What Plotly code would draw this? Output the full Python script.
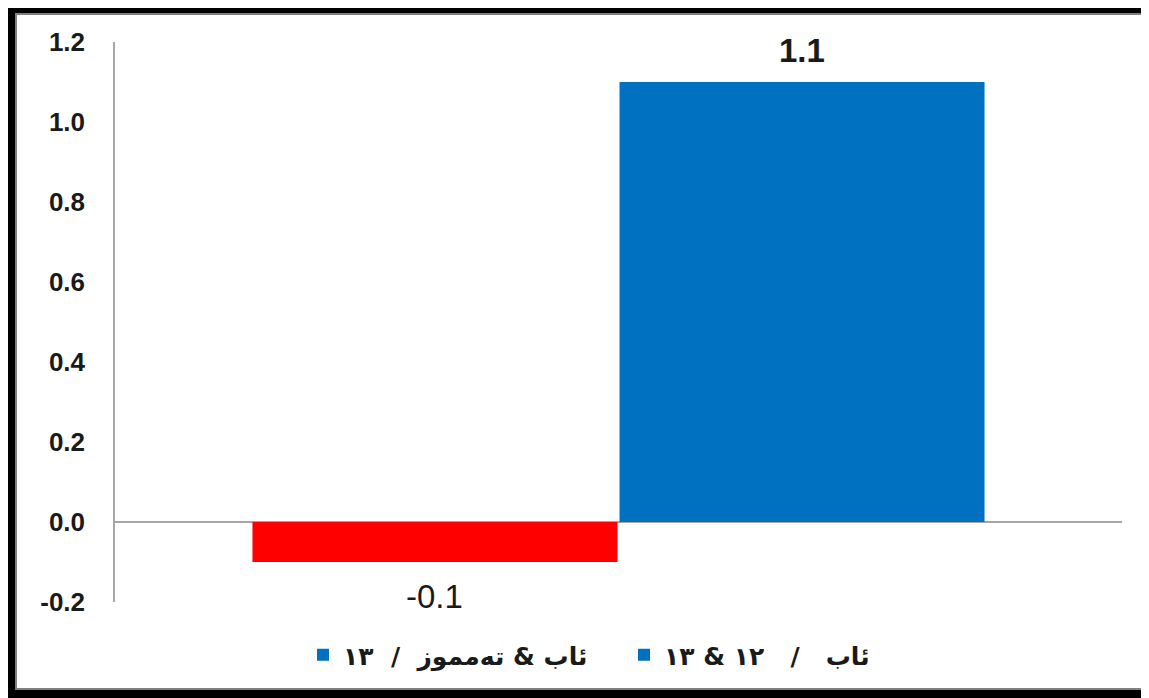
import plotly.graph_objects as go

# ---- data ----
category = [0]
series_names = ["ئاب\u00a0&\u00a0تەمموز\u00a0\u00a0/\u00a0\u00a0١٣", "ئاب\u00a0\u00a0\u00a0/\u00a0\u00a0\u00a0١٢\u00a0&\u00a0١٣"]
values = [-0.1, 1.1]
bar_colors = ["#FF0000", "#0070C0"]
legend_color = "#0070C0"
label_bold = [False, True]
y_ticks = [-0.2, 0.0, 0.2, 0.4, 0.6, 0.8, 1.0, 1.2]
y_tick_text = [f"{v:.1f}" for v in y_ticks]

# ---- layout geometry (pixels, page coords; page body has an 8px margin) ----
OFF = 8
W, H = 1149 - OFF, 698 - OFF
ML, MR, MT, MB = 115 - OFF, 27, 42 - OFF, 96
PW, PH = W - ML - MR, H - MT - MB


def px_x(x):
    return (x - OFF - ML) / PW


def px_y(y):
    return (H - MB - (y - OFF)) / PH


bar_w = 0.3625
gap = 0.002
offsets = [-bar_w - gap / 2, gap / 2]

fig = go.Figure()
for name, v, c, off, bold in zip(series_names, values, bar_colors, offsets, label_bold):
    fig.add_trace(go.Bar(
        x=category, y=[v], name=name, marker=dict(color=c, line=dict(width=0)),
        offset=off, width=bar_w, showlegend=False, hoverinfo="skip",
    ))
    fig.add_annotation(
        x=category[0] + off + bar_w / 2, y=v, xref="x", yref="y",
        text=f"{v:.1f}", showarrow=False,
        yanchor="middle", yshift=32 if v >= 0 else -34,
        font=dict(family="Liberation Sans", size=33, color="#1a1a1a",
                  weight="bold" if bold else "normal"),
    )

# legend entries (both shown with blue squares, as in the reference)
for name in series_names:
    fig.add_trace(go.Scatter(
        x=[None], y=[None], mode="markers", name=name,
        marker=dict(symbol="square", size=12, color=legend_color),
    ))

shapes = [
    dict(type="rect", xref="paper", yref="paper", layer="below",
         x0=px_x(0), x1=px_x(1170), y0=px_y(720), y1=px_y(0),
         fillcolor="black", line=dict(width=0)),
    dict(type="rect", xref="paper", yref="paper", layer="below",
         x0=px_x(16), x1=px_x(1147), y0=px_y(689), y1=px_y(14),
         fillcolor="white", line=dict(color="#808080", width=2)),
]

fig.update_layout(
    width=W, height=H,
    margin=dict(l=ML, r=MR, t=MT, b=MB, pad=0),
    paper_bgcolor="white", plot_bgcolor="white",
    barmode="overlay",
    shapes=shapes,
    xaxis=dict(range=[-0.5, 0.5], showticklabels=False, showgrid=False,
               zeroline=False, showline=False, ticks="", fixedrange=True),
    yaxis=dict(range=[-0.2, 1.2], tickvals=y_ticks, ticktext=y_tick_text,
               showgrid=False, zeroline=True, zerolinecolor="#A6A6A6", zerolinewidth=1.5,
               showline=True, linecolor="#A6A6A6", linewidth=1.5, ticks="",
               ticklabelstandoff=23,
               tickfont=dict(family="Liberation Sans", size=26, color="#1a1a1a", weight="bold")),
    legend=dict(orientation="h", x=px_x(624), y=px_y(655), xanchor="center", yanchor="middle",
                font=dict(family="DejaVu Sans", size=25, color="#1a1a1a", weight="bold"),
                bgcolor="rgba(0,0,0,0)", itemwidth=30, traceorder="normal",
                entrywidth=276),
    showlegend=True,
)

fig.write_html("out.html")
